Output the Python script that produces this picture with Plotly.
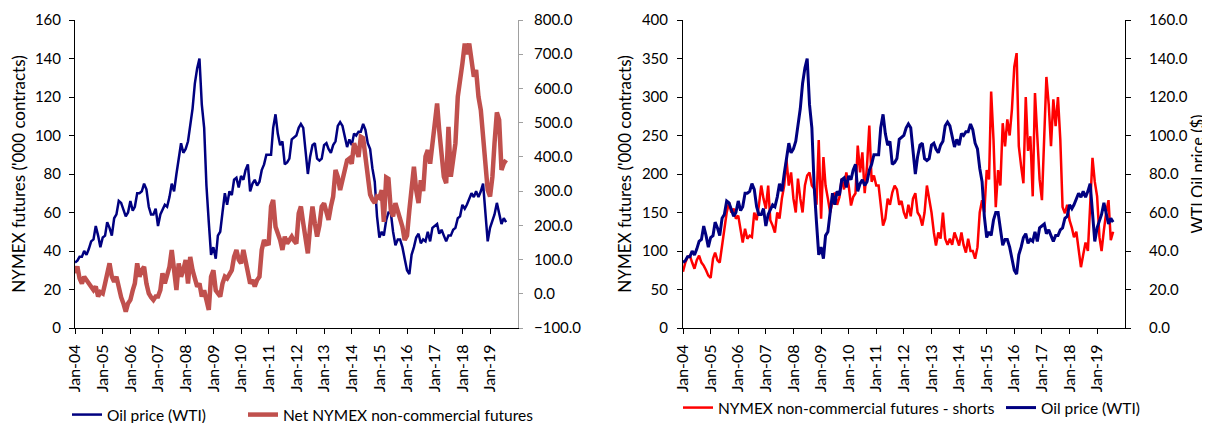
import pandas as pd
import plotly.graph_objects as go

# monthly readings, Jan-2004 .. Aug-2019
oil_wti = [
    34, 35, 37, 37, 40, 38, 41, 45, 46, 53, 48, 42,
    47, 48, 55, 52, 48, 57, 59, 66, 65, 61, 58, 60,
    66, 61, 63, 70, 70, 71, 75, 72, 63, 59, 59, 62,
    53, 59, 61, 64, 63, 68, 75, 71, 80, 88, 96, 91,
    93, 97, 106, 114, 127, 135, 140, 116, 104, 74, 55, 38,
    42, 36, 48, 50, 60, 70, 64, 71, 69, 77, 78, 73,
    79, 77, 82, 85, 71, 75, 77, 74, 76, 82, 85, 90,
    90, 90, 104, 111, 101, 95, 97, 85, 86, 88, 98, 99,
    100, 104, 106, 104, 93, 80, 89, 95, 96, 88, 87, 88,
    95, 96, 93, 91, 95, 97, 105, 107, 105, 100, 94, 98,
    95, 101, 100, 102, 102, 106, 103, 96, 93, 83, 76, 58,
    47, 50, 48, 56, 60, 60, 50, 43, 46, 46, 42, 36,
    30, 28, 38, 42, 47, 49, 44, 46, 45, 50, 45, 52,
    53, 54, 49, 51, 48, 45, 48, 48, 51, 52, 57, 58,
    64, 62, 64, 67, 70, 68, 71, 68, 71, 75, 57, 45,
    52, 56, 59, 65, 60, 54, 57, 55,
]

net_noncommercial = [
    60, 80, 45, 30, 50, 40, 35, 20, 11, 21, -8, 5,
    1, 30, 60, 89, 50, 35, 50, 11, -10, -28, -52, -28,
    -18, 10, 30, 89, 50, 69, 79, 30, 1, -10, -18, -8,
    -8, 11, 60, 30, 55, 79, 128, 69, 11, 89, 50, 70,
    99, 30, 108, 69, 40, 21, 30, -8, 10, -20, -47, 50,
    69, 10, 1, -8, 30, 50, 45, 60, 69, 108, 128, 100,
    89, 128, 100, 60, 30, 40, 21, 40, 50, 128, 157, 145,
    147, 255, 274, 196, 180, 157, 128, 167, 147, 160, 167, 155,
    147, 235, 255, 206, 167, 118, 196, 255, 206, 167, 200, 255,
    264, 235, 216, 255, 284, 362, 342, 303, 332, 362, 390, 395,
    380, 440, 420, 400, 459, 455, 400, 340, 290, 275, 265, 284,
    280, 303, 210, 340, 336, 245, 226, 265, 245, 226, 196, 157,
    170, 245, 323, 371, 303, 265, 332, 300, 401, 420, 380, 440,
    488, 556, 478, 401, 342, 323, 488, 342, 400, 440, 576, 615,
    673, 731, 700, 731, 673, 634, 654, 576, 537, 459, 362, 303,
    284, 342, 440, 530, 508, 362, 381, 391,
]

shorts_noncommercial = [
    73, 85, 92, 94, 85, 77, 88, 94, 85, 81, 75, 68,
    65, 90, 98, 88, 85, 107, 129, 150, 163, 150, 155, 142,
    146, 124, 111, 129, 116, 120, 118, 150, 140, 159, 185, 168,
    155, 185, 140, 133, 124, 150, 142, 168, 185, 219, 185, 202,
    168, 150, 194, 168, 150, 185, 198, 202, 185, 181, 160, 244,
    142, 222, 185, 168, 150, 165, 176, 160, 170, 194, 180, 202,
    185, 159, 170, 175, 237, 202, 228, 175, 211, 263, 190, 198,
    185, 185, 159, 133, 142, 168, 160, 176, 185, 180, 160, 165,
    150, 142, 160, 145, 168, 175, 150, 145, 133, 150, 185, 168,
    150, 124, 107, 124, 116, 150, 116, 108, 116, 108, 124, 116,
    107, 124, 108, 98, 116, 100, 100, 90, 105, 150, 166, 150,
    205, 193, 307, 245, 157, 205, 185, 266, 236, 271, 250, 284,
    339, 357, 236, 210, 188, 300, 230, 249, 171, 305, 240, 193,
    166, 253, 326, 290, 236, 297, 262, 300, 245, 157, 149, 160,
    140, 130, 118, 125, 100, 79, 95, 111, 100, 157, 221, 190,
    171, 118, 100, 127, 150, 166, 114, 125,
]

months = pd.date_range("2004-01-01", periods=len(oil_wti), freq="MS")
year_ticks = pd.date_range("2004-01-01", "2019-01-01", freq="YS")

NAVY = "#000080"
BRICK = "#C0504D"
RED = "#FF0000"
FONT = "Lato"
W, H = 1210, 423
OFF = 8  # page body margin


def px_x(p):
    return (p - OFF) / W


def px_y(p):
    return 1 - (p - OFF) / H


fig = go.Figure()

# left panel
fig.add_trace(go.Scatter(x=months, y=oil_wti, mode="lines", name="Oil price (WTI)",
                         line=dict(color=NAVY, width=2.5), xaxis="x", yaxis="y", legend="legend"))
fig.add_trace(go.Scatter(x=months, y=net_noncommercial, mode="lines", name="Net NYMEX non-commercial futures",
                         line=dict(color=BRICK, width=4.5), xaxis="x", yaxis="y2", legend="legend2"))
# right panel
fig.add_trace(go.Scatter(x=months, y=shorts_noncommercial, mode="lines", name="NYMEX non-commercial futures - shorts",
                         line=dict(color=RED, width=2.5), xaxis="x2", yaxis="y3", legend="legend3"))
fig.add_trace(go.Scatter(x=months, y=oil_wti, mode="lines", name="Oil price (WTI)",
                         line=dict(color=NAVY, width=3), xaxis="x2", yaxis="y4", legend="legend4"))

xr = ["2004-01-01", "2020-01-05"]
xcommon = dict(type="date", range=xr, tickvals=year_ticks, tickformat="%b-%y", tickangle=-90,
               showline=True, linecolor="black", linewidth=1, ticks="outside", ticklen=5,
               tickcolor="black", showgrid=False, zeroline=False, tickfont=dict(size=16),
               automargin=False, ticklabelstandoff=4)
ycommon = dict(showline=True, linecolor="black", linewidth=1, ticks="outside", ticklen=5,
               tickcolor="black", showgrid=False, zeroline=False, tickfont=dict(size=15),
               automargin=False)
# inner halves of the crossing tick marks
xinner = dict(type="date", range=xr, tickvals=year_ticks, ticks="inside", ticklen=5, tickcolor="black",
              showticklabels=False, showline=False, showgrid=False, zeroline=False, automargin=False)
yinner = dict(ticks="inside", ticklen=4, tickcolor="black", showticklabels=False, showline=False,
              showgrid=False, zeroline=False, automargin=False)
title_font = dict(size=17)


def leg(x_page, y_page):
    return dict(orientation="h", x=x_page / W, xanchor="left", y=px_y(y_page), yanchor="middle",
                font=dict(size=15.5), itemwidth=30, bgcolor="rgba(0,0,0,0)", borderwidth=0)


dom_y = [px_y(328), px_y(20)]
fig.update_layout(
    template="none",
    width=W, height=H,
    margin=dict(l=0, r=0, t=0, b=0, pad=0, autoexpand=False),
    paper_bgcolor="white", plot_bgcolor="white",
    font=dict(family=FONT, color="black"),
    showlegend=True,
    xaxis=dict(xcommon, domain=[px_x(75), px_x(518)], anchor="y"),
    yaxis=dict(ycommon, domain=dom_y, range=[0, 160], dtick=20, anchor="x", ticklabelstandoff=5,
               title=dict(text="NYMEX futures ('000 contracts)", font=title_font, standoff=5)),
    yaxis2=dict(ycommon, overlaying="y", side="right", anchor="x", range=[-100, 800], dtick=100,
                tickformat=".1f", linecolor="#A0A0A0", tickcolor="#A0A0A0", ticklen=4, ticklabelstandoff=8),
    xaxis2=dict(xcommon, domain=[px_x(683), px_x(1125)], anchor="y3"),
    yaxis3=dict(ycommon, domain=dom_y, range=[0, 400], dtick=50, anchor="x2", ticklabelstandoff=6,
                title=dict(text="NYMEX futures ('000 contracts)", font=title_font, standoff=5)),
    yaxis4=dict(ycommon, overlaying="y3", side="right", anchor="x2", range=[0, 160], dtick=20,
                tickformat=".1f", ticklabelstandoff=15,
                title=dict(text="WTI Oil price ($)", font=dict(size=16.5), standoff=0)),
    xaxis3=dict(xinner, overlaying="x", anchor="y"),
    xaxis4=dict(xinner, overlaying="x2", anchor="y3"),
    yaxis5=dict(yinner, overlaying="y", anchor="x", side="left", range=[0, 160], dtick=20),
    yaxis6=dict(yinner, overlaying="y3", anchor="x2", side="left", range=[0, 400], dtick=50),
    yaxis7=dict(yinner, overlaying="y3", anchor="x2", side="right", range=[0, 160], dtick=20),
    legend=leg(59, 415),
    legend2=leg(235, 415),
    legend3=leg(670, 408),
    legend4=leg(993, 408),
)

fig.write_html("out.html")
